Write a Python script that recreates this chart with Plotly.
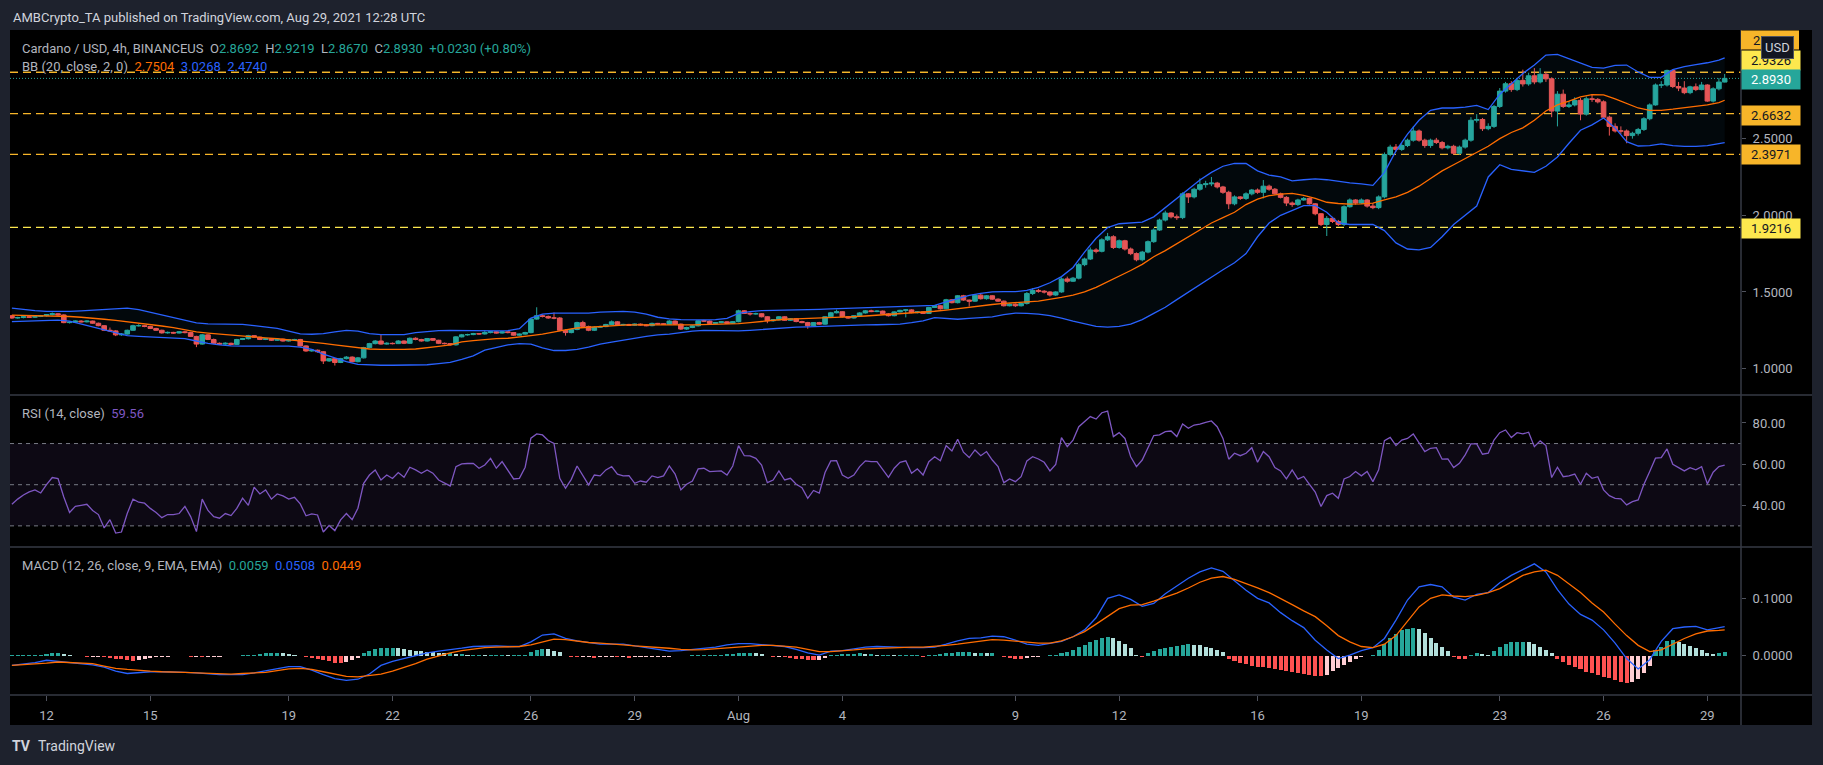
import plotly.graph_objects as go
import pandas as pd

# ---------------- data ----------------
candle_open = [
 1.345,1.330,1.333,1.338,1.335,1.340,1.345,1.352,1.358,1.350,
 1.300,1.303,1.310,1.305,1.310,1.296,1.280,1.250,1.246,1.220,
 1.225,1.250,1.280,1.280,1.275,1.262,1.250,1.233,1.236,1.232,
 1.240,1.235,1.210,1.160,1.220,1.190,1.165,1.160,1.165,1.158,
 1.190,1.195,1.215,1.205,1.190,1.195,1.185,1.192,1.180,1.188,
 1.190,1.148,1.115,1.120,1.110,1.050,1.065,1.040,1.065,1.075,
 1.045,1.070,1.137,1.163,1.180,1.160,1.165,1.163,1.180,1.165,
 1.198,1.190,1.180,1.196,1.185,1.165,1.163,1.155,1.207,1.220,
 1.222,1.228,1.226,1.235,1.240,1.232,1.240,1.235,1.218,1.225,
 1.235,1.323,1.345,1.340,1.330,1.330,1.250,1.235,1.255,1.300,
 1.275,1.250,1.270,1.274,1.288,1.305,1.285,1.288,1.283,1.290,
 1.285,1.280,1.295,1.292,1.290,1.310,1.290,1.258,1.268,1.279,
 1.312,1.310,1.295,1.300,1.305,1.296,1.306,1.377,1.360,1.357,
 1.358,1.338,1.312,1.318,1.338,1.315,1.325,1.307,1.300,1.280,
 1.300,1.290,1.338,1.364,1.371,1.338,1.330,1.345,1.363,1.377,
 1.372,1.375,1.357,1.345,1.370,1.380,1.383,1.365,1.370,1.360,
 1.399,1.410,1.390,1.449,1.430,1.475,1.447,1.440,1.479,1.456,
 1.475,1.453,1.440,1.410,1.420,1.410,1.425,1.490,1.510,1.505,
 1.500,1.480,1.500,1.585,1.570,1.590,1.678,1.715,1.774,1.765,
 1.840,1.860,1.790,1.834,1.780,1.750,1.710,1.760,1.828,1.904,
 1.969,2.015,1.990,1.985,2.140,2.120,2.170,2.200,2.205,2.210,
 2.185,2.150,2.075,2.120,2.110,2.140,2.165,2.150,2.190,2.170,
 2.140,2.117,2.080,2.070,2.100,2.110,2.075,2.010,1.940,1.980,
 1.960,1.940,2.056,2.100,2.080,2.100,2.060,2.050,2.120,2.397,
 2.445,2.430,2.455,2.490,2.550,2.490,2.455,2.490,2.475,2.440,
 2.450,2.405,2.445,2.490,2.620,2.625,2.565,2.580,2.710,2.810,
 2.858,2.820,2.880,2.857,2.910,2.870,2.920,2.890,2.680,2.790,
 2.710,2.720,2.750,2.660,2.760,2.756,2.740,2.640,2.580,2.550,
 2.550,2.520,2.535,2.560,2.630,2.720,2.850,2.850,2.945,2.840,
 2.830,2.800,2.838,2.820,2.850,2.745,2.825,2.8692]

candle_high = [
 1.350,1.338,1.342,1.343,1.344,1.350,1.356,1.366,1.362,1.355,
 1.308,1.314,1.316,1.314,1.313,1.300,1.284,1.268,1.252,1.232,
 1.254,1.286,1.290,1.284,1.279,1.266,1.254,1.242,1.240,1.245,
 1.246,1.240,1.214,1.226,1.224,1.196,1.170,1.172,1.170,1.194,
 1.200,1.220,1.218,1.208,1.199,1.198,1.197,1.195,1.193,1.194,
 1.194,1.152,1.126,1.124,1.114,1.070,1.068,1.070,1.082,1.080,
 1.076,1.142,1.168,1.186,1.222,1.172,1.170,1.186,1.184,1.203,
 1.204,1.194,1.200,1.199,1.188,1.170,1.166,1.211,1.226,1.227,
 1.233,1.231,1.250,1.245,1.244,1.245,1.244,1.238,1.229,1.240,
 1.330,1.400,1.352,1.346,1.366,1.336,1.256,1.262,1.306,1.312,
 1.280,1.276,1.280,1.292,1.314,1.310,1.292,1.292,1.294,1.294,
 1.289,1.300,1.298,1.296,1.316,1.314,1.294,1.273,1.283,1.316,
 1.318,1.314,1.304,1.309,1.309,1.310,1.384,1.382,1.366,1.365,
 1.362,1.342,1.322,1.343,1.342,1.329,1.330,1.312,1.305,1.304,
 1.305,1.342,1.370,1.385,1.374,1.342,1.349,1.368,1.382,1.384,
 1.380,1.379,1.362,1.374,1.384,1.387,1.387,1.374,1.373,1.403,
 1.415,1.414,1.455,1.453,1.480,1.481,1.450,1.484,1.487,1.480,
 1.479,1.458,1.444,1.426,1.425,1.430,1.500,1.525,1.520,1.512,
 1.505,1.505,1.595,1.600,1.598,1.690,1.724,1.790,1.785,1.850,
 1.885,1.870,1.842,1.840,1.790,1.758,1.768,1.836,1.915,1.978,
 2.030,2.020,2.005,2.150,2.145,2.180,2.240,2.225,2.250,2.218,
 2.192,2.160,2.130,2.125,2.150,2.172,2.175,2.230,2.200,2.178,
 2.148,2.125,2.090,2.108,2.120,2.115,2.080,2.015,1.995,1.990,
 1.970,2.065,2.110,2.105,2.110,2.105,2.080,2.130,2.410,2.460,
 2.465,2.470,2.500,2.580,2.560,2.500,2.500,2.505,2.485,2.460,
 2.460,2.455,2.500,2.640,2.660,2.635,2.600,2.720,2.830,2.870,
 2.875,2.895,2.950,2.930,2.960,2.960,2.935,2.900,2.810,2.820,
 2.745,2.770,2.765,2.775,2.790,2.765,2.750,2.650,2.600,2.580,
 2.560,2.545,2.570,2.640,2.730,2.860,2.875,2.950,2.950,2.870,
 2.875,2.845,2.860,2.870,2.855,2.835,2.895,2.9219]

candle_low = [
 1.325,1.326,1.328,1.331,1.330,1.336,1.340,1.347,1.344,1.296,
 1.294,1.299,1.301,1.301,1.292,1.276,1.245,1.240,1.212,1.214,
 1.221,1.246,1.274,1.270,1.258,1.246,1.228,1.228,1.227,1.229,
 1.230,1.206,1.140,1.156,1.186,1.160,1.154,1.155,1.152,1.154,
 1.186,1.190,1.200,1.186,1.186,1.180,1.181,1.176,1.176,1.184,
 1.144,1.110,1.110,1.104,1.030,1.044,1.020,1.036,1.060,1.040,
 1.041,1.066,1.132,1.158,1.156,1.156,1.158,1.160,1.160,1.162,
 1.185,1.176,1.176,1.180,1.160,1.158,1.150,1.150,1.203,1.215,
 1.218,1.221,1.222,1.230,1.228,1.228,1.230,1.214,1.214,1.221,
 1.230,1.318,1.334,1.325,1.322,1.244,1.215,1.230,1.250,1.268,
 1.244,1.245,1.266,1.270,1.284,1.280,1.281,1.278,1.279,1.281,
 1.276,1.276,1.287,1.285,1.286,1.285,1.252,1.252,1.264,1.275,
 1.305,1.291,1.291,1.296,1.292,1.292,1.302,1.356,1.346,1.352,
 1.334,1.296,1.306,1.314,1.311,1.311,1.302,1.296,1.260,1.276,
 1.285,1.286,1.334,1.360,1.334,1.326,1.326,1.341,1.359,1.368,
 1.368,1.352,1.340,1.341,1.366,1.334,1.361,1.360,1.356,1.356,
 1.395,1.385,1.386,1.425,1.425,1.442,1.405,1.436,1.450,1.450,
 1.448,1.435,1.405,1.406,1.402,1.405,1.418,1.480,1.495,1.490,
 1.470,1.474,1.495,1.560,1.565,1.582,1.668,1.708,1.752,1.758,
 1.832,1.780,1.782,1.770,1.740,1.700,1.700,1.752,1.820,1.898,
 1.960,1.980,1.970,1.975,2.080,2.110,2.160,2.180,2.190,2.175,
 2.140,2.040,2.065,2.100,2.100,2.130,2.140,2.110,2.160,2.135,
 2.110,2.060,2.055,2.060,2.095,2.070,2.000,1.930,1.865,1.950,
 1.930,1.930,2.050,2.070,2.075,2.050,2.040,2.040,2.110,2.385,
 2.415,2.420,2.445,2.480,2.480,2.440,2.440,2.465,2.430,2.430,
 2.395,2.395,2.435,2.480,2.605,2.550,2.555,2.570,2.700,2.800,
 2.805,2.810,2.840,2.845,2.855,2.860,2.870,2.640,2.580,2.700,
 2.700,2.710,2.620,2.650,2.740,2.730,2.630,2.520,2.540,2.530,
 2.470,2.500,2.520,2.550,2.620,2.715,2.830,2.840,2.830,2.810,
 2.790,2.790,2.810,2.815,2.740,2.735,2.815,2.867]

candle_close = [
 1.330,1.333,1.338,1.335,1.340,1.345,1.352,1.358,1.350,1.300,
 1.303,1.310,1.305,1.310,1.296,1.280,1.250,1.246,1.220,1.225,
 1.250,1.280,1.280,1.275,1.262,1.250,1.233,1.236,1.232,1.240,
 1.235,1.210,1.160,1.220,1.190,1.165,1.160,1.165,1.158,1.190,
 1.195,1.215,1.205,1.190,1.195,1.185,1.192,1.180,1.188,1.190,
 1.148,1.115,1.120,1.110,1.050,1.065,1.040,1.065,1.075,1.045,
 1.070,1.137,1.163,1.180,1.160,1.165,1.163,1.180,1.165,1.198,
 1.190,1.180,1.196,1.185,1.165,1.163,1.155,1.207,1.220,1.222,
 1.228,1.226,1.235,1.240,1.232,1.240,1.235,1.218,1.225,1.235,
 1.323,1.345,1.340,1.330,1.330,1.250,1.235,1.255,1.300,1.275,
 1.250,1.270,1.274,1.288,1.305,1.285,1.288,1.283,1.290,1.285,
 1.280,1.295,1.292,1.290,1.310,1.290,1.258,1.268,1.279,1.312,
 1.310,1.295,1.300,1.305,1.296,1.306,1.377,1.360,1.357,1.358,
 1.338,1.312,1.318,1.338,1.315,1.325,1.307,1.300,1.280,1.300,
 1.290,1.338,1.364,1.371,1.338,1.330,1.345,1.363,1.377,1.372,
 1.375,1.357,1.345,1.370,1.380,1.383,1.365,1.370,1.360,1.399,
 1.410,1.390,1.449,1.430,1.475,1.447,1.440,1.479,1.456,1.475,
 1.453,1.440,1.410,1.420,1.410,1.425,1.490,1.510,1.505,1.500,
 1.480,1.500,1.585,1.570,1.590,1.678,1.715,1.774,1.765,1.840,
 1.860,1.790,1.834,1.780,1.750,1.710,1.760,1.828,1.904,1.969,
 2.015,1.990,1.985,2.140,2.120,2.170,2.200,2.205,2.210,2.185,
 2.150,2.075,2.120,2.110,2.140,2.165,2.150,2.190,2.170,2.140,
 2.117,2.080,2.070,2.100,2.110,2.075,2.010,1.940,1.980,1.960,
 1.940,2.056,2.100,2.080,2.100,2.060,2.050,2.120,2.397,2.445,
 2.430,2.455,2.490,2.550,2.490,2.455,2.490,2.475,2.440,2.450,
 2.405,2.445,2.490,2.620,2.625,2.565,2.580,2.710,2.810,2.858,
 2.820,2.880,2.857,2.910,2.870,2.920,2.890,2.680,2.790,2.710,
 2.720,2.750,2.660,2.760,2.756,2.740,2.640,2.580,2.550,2.550,
 2.520,2.535,2.560,2.630,2.720,2.850,2.850,2.945,2.840,2.830,
 2.800,2.838,2.820,2.850,2.745,2.825,2.8692,2.8930]

# Bollinger Bands (20, 2) sampled every second candle, plus the last candle
bb_upper = [
 1.394,1.385,1.378,1.373,1.372,1.373,1.376,1.380,1.386,1.392,
 1.394,1.385,1.368,1.350,1.335,1.315,1.298,1.292,1.290,1.290,
 1.288,1.280,1.272,1.262,1.245,1.226,1.224,1.228,1.240,1.250,
 1.245,1.228,1.222,1.220,1.222,1.235,1.242,1.248,1.250,1.248,
 1.246,1.246,1.246,1.248,1.260,1.330,1.355,1.362,1.362,1.360,
 1.362,1.368,1.372,1.373,1.368,1.355,1.335,1.325,1.320,1.318,
 1.318,1.320,1.328,1.360,1.372,1.378,1.379,1.380,1.381,1.383,
 1.386,1.389,1.392,1.395,1.397,1.399,1.402,1.408,1.410,1.410,
 1.413,1.435,1.455,1.478,1.490,1.500,1.502,1.502,1.510,1.530,
 1.560,1.600,1.660,1.760,1.850,1.920,1.945,1.950,1.955,1.990,
 2.050,2.110,2.170,2.230,2.280,2.320,2.338,2.338,2.290,2.262,
 2.250,2.225,2.232,2.238,2.232,2.220,2.212,2.205,2.195,2.280,
 2.420,2.530,2.620,2.685,2.700,2.700,2.705,2.717,2.690,2.790,
 2.860,2.925,2.980,3.045,3.050,3.020,2.990,2.965,2.960,2.978,
 2.980,2.935,2.900,2.900,2.950,2.970,2.983,2.995,3.012,
 3.0268]
bb_basis = [
 1.349,1.348,1.346,1.345,1.343,1.340,1.335,1.330,1.322,1.314,
 1.306,1.298,1.288,1.278,1.268,1.255,1.240,1.232,1.225,1.218,
 1.210,1.205,1.200,1.195,1.188,1.182,1.175,1.165,1.155,1.145,
 1.135,1.128,1.126,1.125,1.126,1.128,1.135,1.145,1.155,1.175,
 1.183,1.190,1.195,1.198,1.205,1.215,1.225,1.240,1.252,1.265,
 1.270,1.275,1.280,1.284,1.285,1.286,1.286,1.285,1.285,1.285,
 1.287,1.289,1.291,1.294,1.300,1.308,1.316,1.322,1.325,1.327,
 1.329,1.332,1.336,1.339,1.343,1.348,1.352,1.356,1.362,1.366,
 1.374,1.382,1.392,1.400,1.410,1.418,1.425,1.432,1.435,1.440,
 1.450,1.465,1.480,1.500,1.530,1.565,1.600,1.640,1.680,1.730,
 1.770,1.815,1.860,1.910,1.950,1.985,2.020,2.070,2.105,2.128,
 2.138,2.143,2.130,2.110,2.085,2.077,2.073,2.074,2.080,2.100,
 2.120,2.150,2.190,2.240,2.290,2.330,2.370,2.415,2.450,2.500,
 2.540,2.570,2.620,2.680,2.720,2.745,2.772,2.787,2.786,2.760,
 2.730,2.700,2.685,2.685,2.692,2.700,2.710,2.720,2.735,
 2.7504]
bb_lower = [
 1.307,1.310,1.314,1.316,1.316,1.310,1.290,1.275,1.255,1.235,
 1.215,1.210,1.206,1.203,1.200,1.196,1.180,1.165,1.155,1.148,
 1.146,1.146,1.146,1.146,1.146,1.140,1.125,1.095,1.072,1.045,
 1.028,1.023,1.022,1.022,1.022,1.023,1.025,1.032,1.040,1.060,
 1.083,1.120,1.140,1.155,1.163,1.160,1.135,1.118,1.118,1.125,
 1.140,1.160,1.172,1.185,1.200,1.210,1.220,1.225,1.235,1.245,
 1.250,1.248,1.247,1.246,1.250,1.255,1.262,1.268,1.270,1.272,
 1.275,1.278,1.282,1.284,1.285,1.286,1.287,1.290,1.300,1.312,
 1.332,1.325,1.322,1.328,1.334,1.338,1.352,1.362,1.360,1.355,
 1.345,1.330,1.310,1.290,1.275,1.270,1.275,1.290,1.320,1.360,
 1.400,1.450,1.500,1.550,1.600,1.645,1.690,1.750,1.860,1.950,
 2.000,2.030,2.063,2.063,2.020,1.950,1.940,1.940,1.940,1.900,
 1.820,1.780,1.775,1.790,1.860,1.940,2.000,2.060,2.250,2.330,
 2.300,2.290,2.280,2.320,2.380,2.470,2.555,2.590,2.635,2.570,
 2.480,2.452,2.455,2.466,2.455,2.450,2.450,2.455,2.465,
 2.474]

rsi_values = [
 40.5,43.0,45.0,46.5,47.5,46.0,50.0,53.5,53.0,44.0,
 36.5,39.5,40.0,40.5,37.5,35.5,29.0,33.0,26.5,27.0,
 36.0,43.0,41.5,41.0,38.5,36.5,34.0,35.5,35.5,36.0,
 39.5,34.5,27.2,43.0,37.5,34.5,33.7,36.0,35.0,38.5,
 43.5,40.0,48.8,45.5,47.5,43.0,45.5,44.6,43.0,43.9,
 40.7,34.9,35.8,35.3,27.0,30.2,27.7,32.9,36.0,33.0,
 38.6,50.7,54.7,57.2,52.3,54.7,53.0,55.9,53.6,58.5,
 57.2,55.6,57.2,55.6,52.3,51.0,49.4,58.8,60.1,60.3,
 60.4,58.0,59.6,62.8,58.0,61.2,57.2,52.8,53.1,58.5,
 72.6,74.7,74.2,71.5,70.1,53.1,48.3,52.6,59.1,54.7,
 49.9,54.7,54.3,57.2,58.8,55.1,54.3,54.4,50.7,51.8,
 51.2,54.3,53.5,54.3,59.1,55.2,47.5,50.2,51.8,57.7,
 58.0,56.4,56.7,56.7,54.7,59.1,69.0,64.1,64.0,62.8,
 59.6,51.0,52.3,56.7,52.3,53.1,50.2,48.6,43.4,47.2,
 45.9,55.9,61.6,61.7,54.7,53.1,54.7,58.8,61.6,61.2,
 61.2,57.2,53.6,58.0,60.9,61.6,55.6,57.7,54.7,61.2,
 63.6,61.6,69.0,66.4,72.1,65.8,63.2,66.9,64.1,66.1,
 62.0,58.8,51.0,52.8,51.5,53.9,61.6,63.6,62.5,60.9,
 56.7,59.9,72.9,68.5,71.7,78.2,80.6,83.1,81.9,85.0,
 85.8,73.4,75.3,72.5,63.6,58.8,62.0,67.7,73.9,74.2,
 75.8,76.1,73.4,79.5,77.4,79.0,79.4,80.3,81.0,78.2,
 72.5,62.4,65.3,64.1,65.3,68.0,60.9,66.1,63.6,58.3,
 56.7,52.8,57.2,52.7,54.0,50.2,46.4,39.4,44.7,45.9,
 43.4,52.8,54.0,56.4,54.3,56.4,51.5,57.2,71.4,73.0,
 69.0,71.7,72.5,74.7,70.1,66.1,67.7,68.0,62.4,62.5,
 58.3,60.4,64.5,69.8,69.8,64.8,65.3,71.7,75.3,76.6,
 72.9,75.3,74.7,75.5,68.5,71.3,69.0,53.5,58.5,53.9,
 54.3,55.2,50.2,55.6,53.1,53.9,47.5,44.7,43.4,43.1,
 40.2,41.8,42.6,50.2,56.4,62.9,63.2,67.4,59.9,58.3,
 56.7,58.3,57.2,58.8,50.4,56.1,58.8,59.56]

# MACD (12, 26, 9): line and signal sampled every second candle, plus the last candle
macd_values = [
 -0.017,-0.015,-0.012,-0.008,-0.010,-0.012,-0.014,-0.016,-0.020,-0.027,
 -0.031,-0.029,-0.028,-0.028,-0.028,-0.029,-0.030,-0.032,-0.033,-0.033,
 -0.033,-0.030,-0.026,-0.022,-0.019,-0.019,-0.025,-0.033,-0.040,-0.043,
 -0.041,-0.032,-0.017,-0.010,-0.005,0.000,0.005,0.008,0.010,0.013,
 0.016,0.017,0.017,0.016,0.016,0.024,0.036,0.038,0.030,0.026,
 0.023,0.020,0.020,0.020,0.017,0.014,0.011,0.008,0.009,0.011,
 0.013,0.015,0.019,0.021,0.021,0.019,0.017,0.016,0.011,0.005,
 0.001,0.008,0.009,0.012,0.015,0.016,0.015,0.015,0.014,0.014,
 0.015,0.020,0.026,0.030,0.031,0.034,0.033,0.027,0.020,0.018,
 0.021,0.025,0.033,0.045,0.066,0.100,0.106,0.098,0.086,0.091,
 0.108,0.122,0.135,0.146,0.153,0.147,0.130,0.114,0.100,0.092,
 0.075,0.061,0.049,0.027,0.010,-0.005,0.001,0.009,0.014,0.030,
 0.062,0.097,0.120,0.124,0.120,0.102,0.097,0.107,0.110,0.127,
 0.140,0.150,0.160,0.146,0.115,0.090,0.072,0.062,0.045,0.022,
 -0.005,-0.023,-0.007,0.025,0.047,0.050,0.051,0.045,0.049,
 0.0508]
signal_values = [
 -0.017,-0.016,-0.014,-0.013,-0.011,-0.012,-0.013,-0.014,-0.018,-0.022,
 -0.024,-0.026,-0.027,-0.028,-0.028,-0.029,-0.030,-0.031,-0.032,-0.032,
 -0.031,-0.030,-0.029,-0.026,-0.023,-0.022,-0.024,-0.028,-0.032,-0.036,
 -0.037,-0.035,-0.032,-0.027,-0.021,-0.014,-0.006,0.000,0.005,0.009,
 0.012,0.014,0.015,0.016,0.016,0.019,0.024,0.029,0.028,0.025,
 0.023,0.022,0.021,0.019,0.017,0.016,0.015,0.013,0.011,0.010,
 0.0105,0.012,0.014,0.016,0.017,0.018,0.018,0.017,0.015,0.011,
 0.007,0.007,0.008,0.010,0.012,0.013,0.014,0.014,0.015,0.015,
 0.016,0.018,0.020,0.023,0.026,0.028,0.027,0.025,0.024,0.022,
 0.022,0.026,0.033,0.042,0.055,0.068,0.082,0.088,0.089,0.095,
 0.102,0.109,0.118,0.128,0.135,0.138,0.133,0.126,0.118,0.110,
 0.100,0.089,0.078,0.068,0.052,0.035,0.024,0.016,0.014,0.020,
 0.035,0.060,0.085,0.100,0.106,0.104,0.103,0.105,0.110,0.117,
 0.128,0.140,0.146,0.149,0.140,0.125,0.110,0.092,0.076,0.055,
 0.035,0.018,0.007,0.010,0.020,0.030,0.038,0.043,0.044,
 0.0449]
hist_values = [
 0.001,0.001,0.002,0.002,0.002,0.002,0.003,0.004,0.005,0.003,
 0.001,-0.001,-0.001,-0.002,-0.002,-0.002,-0.003,-0.004,-0.005,-0.006,
 -0.008,-0.009,-0.007,-0.005,-0.004,-0.003,-0.002,-0.002,-0.001,-0.001,
 -0.001,-0.002,-0.002,-0.003,-0.002,-0.002,-0.002,-0.001,-0.001,-0.001,
 0.001,0.001,0.002,0.003,0.004,0.005,0.005,0.004,0.003,0.002,
 -0.001,-0.003,-0.004,-0.006,-0.008,-0.010,-0.012,-0.013,-0.011,-0.008,
 -0.004,0.004,0.009,0.012,0.013,0.014,0.014,0.013,0.012,0.010,
 0.009,0.008,0.007,0.006,0.005,0.004,0.004,0.003,0.003,0.002,
 0.002,0.002,0.001,0.001,0.001,0.001,0.0005,0.0005,0.001,0.002,
 0.006,0.010,0.012,0.011,0.009,0.006,-0.001,-0.002,-0.003,-0.003,
 -0.003,-0.004,-0.003,-0.003,-0.002,-0.003,-0.003,-0.004,-0.003,-0.003,
 -0.002,-0.002,-0.002,-0.002,-0.002,-0.001,-0.001,-0.001,0.001,0.001,
 0.002,0.002,0.002,0.002,0.003,0.003,0.005,0.005,0.005,0.004,
 0.003,-0.001,-0.002,-0.002,-0.003,-0.004,-0.005,-0.006,-0.007,-0.008,
 -0.007,-0.004,0.001,0.002,0.003,0.003,0.003,0.004,0.003,0.003,
 0.002,0.002,0.002,0.001,0.001,0.001,0.001,0.001,-0.002,0.001,
 0.002,0.003,0.004,0.005,0.006,0.006,0.006,0.005,0.005,0.004,
 0.004,-0.001,-0.003,-0.004,-0.005,-0.006,-0.004,-0.003,-0.002,-0.001,
 0.001,0.001,0.005,0.007,0.010,0.015,0.019,0.023,0.027,0.030,
 0.032,0.031,0.026,0.020,0.013,0.002,-0.003,0.004,0.008,0.012,
 0.014,0.015,0.017,0.019,0.020,0.019,0.018,0.016,0.013,0.010,
 0.006,-0.005,-0.009,-0.013,-0.015,-0.018,-0.019,-0.020,-0.022,-0.024,
 -0.025,-0.027,-0.028,-0.030,-0.032,-0.034,-0.035,-0.036,-0.033,-0.027,
 -0.021,-0.016,-0.011,-0.006,-0.003,-0.001,0.001,0.010,0.020,0.030,
 0.038,0.044,0.047,0.048,0.047,0.040,0.030,0.022,0.015,0.008,
 -0.002,-0.005,-0.006,0.002,0.004,0.003,0.002,0.008,0.015,0.021,
 0.023,0.024,0.024,0.023,0.020,0.015,0.010,0.005,-0.005,-0.011,
 -0.016,-0.020,-0.024,-0.028,-0.031,-0.034,-0.037,-0.039,-0.043,-0.046,
 -0.047,-0.045,-0.040,-0.030,-0.018,0.010,0.016,0.026,0.027,0.024,
 0.021,0.017,0.014,0.010,0.005,0.003,0.004,0.0059]

level_prices = [2.9326, 2.9326, 2.6632, 2.3971, 1.9216]
last_price = 2.8930

x_tick_dates = ["2021-07-12", "2021-07-15", "2021-07-19", "2021-07-22", "2021-07-26",
                "2021-07-29", "2021-08-01", "2021-08-04", "2021-08-09", "2021-08-12",
                "2021-08-16", "2021-08-19", "2021-08-23", "2021-08-26", "2021-08-29"]
x_tick_labels = ["12", "15", "19", "22", "26", "29", "Aug", "4", "9", "12",
                 "16", "19", "23", "26", "29"]
price_ticks = [1.0, 1.5, 2.0, 2.5]
rsi_ticks = [40, 60, 80]
macd_ticks = [0.0, 0.1]

# ---------------- checks ----------------
n = len(candle_close)
lens = dict(o=len(candle_open), h=len(candle_high), l=len(candle_low), c=n, rsi=len(rsi_values),
            hist=len(hist_values), bbu=len(bb_upper), bbm=len(bb_basis), bbl=len(bb_lower),
            macd=len(macd_values), sig=len(signal_values))
line_idx = list(range(0, n - 1, 2)) + [n - 1]
assert all(lens[k] == n for k in ["o", "h", "l", "rsi", "hist"]), lens
assert all(lens[k] == len(line_idx) for k in ["bbu", "bbm", "bbl", "macd", "sig"]), (lens, len(line_idx))

candle_times = pd.date_range("2021-07-11 00:00", periods=n, freq="4h")
line_times = candle_times[line_idx]

# ---------------- geometry / style ----------------
W, H = 1823, 765
ML, MR, MT, MB = 10, 82, 30, 70
PW, PH = W - ML - MR, H - MT - MB
FONT = "Roboto, 'Open Sans', sans-serif"
X0, X1 = "2021-07-10 22:41", "2021-08-29 23:19"


def px_x(px):
    return (px - ML) / PW


def px_y(py):
    return (H - MB - py) / PH


BLUE, ORANGE, TEAL, RED, PURPLE = "#2962ff", "#ff6d00", "#26a69a", "#ef5350", "#7e57c2"
AMBER, YELLOW = "#f7b529", "#fde84e"
TXT = "#b2b5be"

fig = go.Figure()

# Bollinger bands
fig.add_trace(go.Scatter(x=line_times, y=bb_upper, mode="lines", line=dict(color=BLUE, width=1.3),
                         hoverinfo="skip", yaxis="y"))
fig.add_trace(go.Scatter(x=line_times, y=bb_lower, mode="lines", line=dict(color=BLUE, width=1.3),
                         fill="tonexty", fillcolor="rgba(33,150,243,0.05)", hoverinfo="skip", yaxis="y"))
fig.add_trace(go.Scatter(x=line_times, y=bb_basis, mode="lines", line=dict(color=ORANGE, width=1.3),
                         hoverinfo="skip", yaxis="y"))

# candles
fig.add_trace(go.Candlestick(
    x=candle_times, open=candle_open, high=candle_high, low=candle_low, close=candle_close,
    increasing=dict(line=dict(color=TEAL, width=1), fillcolor=TEAL),
    decreasing=dict(line=dict(color=RED, width=1), fillcolor=RED),
    whiskerwidth=0, hoverinfo="skip", yaxis="y"))

# RSI
fig.add_trace(go.Scatter(x=candle_times, y=rsi_values, mode="lines", line=dict(color=PURPLE, width=1.3),
                         hoverinfo="skip", yaxis="y2"))

# MACD histogram colours (TradingView rule: growing / falling columns)
hist_colors = []
prev = 0.0
for hv in hist_values:
    if hv >= 0:
        hist_colors.append("#26a69a" if hv >= prev else "#b2dfdb")
    else:
        hist_colors.append("#ff5252" if hv < prev else "#ffcdd2")
    prev = hv

fig.add_trace(go.Bar(x=candle_times, y=hist_values, marker=dict(color=hist_colors, line=dict(width=0)),
                     width=4 * 3600 * 1000 * 0.7, hoverinfo="skip", yaxis="y3"))
fig.add_trace(go.Scatter(x=line_times, y=macd_values, mode="lines", line=dict(color=BLUE, width=1.3),
                         hoverinfo="skip", yaxis="y3"))
fig.add_trace(go.Scatter(x=line_times, y=signal_values, mode="lines", line=dict(color=ORANGE, width=1.3),
                         hoverinfo="skip", yaxis="y3"))

# ---------------- shapes ----------------
shapes = []
shapes.append(dict(type="rect", xref="paper", yref="paper", x0=px_x(10), x1=px_x(1812),
                   y0=px_y(725), y1=px_y(30), fillcolor="#000000", line=dict(width=0), layer="below"))
shapes.append(dict(type="rect", xref="x", yref="y2", x0=X0, x1=X1, y0=30, y1=70,
                   fillcolor="rgba(126,87,194,0.1)", line=dict(width=0), layer="below"))
for lv in [70, 50, 30]:
    shapes.append(dict(type="line", xref="x", yref="y2", x0=X0, x1=X1, y0=lv, y1=lv,
                       line=dict(color="#787b86", width=1, dash="4px,4px"), layer="below"))
level_line_colors = [YELLOW, AMBER, AMBER, AMBER, YELLOW]
for p, col in zip(level_prices, level_line_colors):
    shapes.append(dict(type="line", xref="x", yref="y", x0=X0, x1=X1, y0=p, y1=p,
                       line=dict(color=col, width=1.3, dash="8px,5px"), layer="below"))
shapes.append(dict(type="line", xref="x", yref="y", x0=X0, x1=X1, y0=last_price, y1=last_price,
                   line=dict(color=TEAL, width=1, dash="1px,2px"), layer="below"))
for py in [395, 547, 695]:
    shapes.append(dict(type="line", xref="paper", yref="paper", x0=px_x(10), x1=px_x(1812),
                       y0=px_y(py), y1=px_y(py), line=dict(color="#363a45", width=1.5), layer="above"))
shapes.append(dict(type="line", xref="paper", yref="paper", x0=px_x(1741), x1=px_x(1741),
                   y0=px_y(725), y1=px_y(30), line=dict(color="#363a45", width=1.5), layer="above"))
# top price-label box that sits underneath the USD badge
shapes.append(dict(type="rect", xref="paper", yref="paper", x0=px_x(1741), x1=px_x(1799),
                   y0=px_y(49.5), y1=px_y(30.5), fillcolor=AMBER, line=dict(width=0), layer="above"))

# ---------------- annotations ----------------
ann = []


def txt(x, y, text, size=13, color=TXT):
    ann.append(dict(xref="paper", yref="paper", x=px_x(x), y=px_y(y), xanchor="left", yanchor="middle",
                    text=text, showarrow=False, font=dict(family=FONT, size=size, color=color)))


def sp(t, c):
    return f"<span style='color:{c}'>{t}</span>"


txt(11, 17, "AMBCrypto_TA published on TradingView.com, Aug 29, 2021 12:28 UTC", 13, "#d1d4dc")
txt(20, 48, "Cardano / USD, 4h, BINANCEUS&nbsp;&nbsp;O" + sp("2.8692", TEAL) + "&nbsp;&nbsp;H" + sp("2.9219", TEAL)
    + "&nbsp;&nbsp;L" + sp("2.8670", TEAL) + "&nbsp;&nbsp;C" + sp("2.8930", TEAL) + "&nbsp;&nbsp;"
    + sp("+0.0230 (+0.80%)", TEAL))
txt(20, 66, "BB (20, close, 2, 0)&nbsp;&nbsp;" + sp("2.7504", ORANGE) + "&nbsp;&nbsp;" + sp("3.0268", BLUE)
    + "&nbsp;&nbsp;" + sp("2.4740", BLUE))
txt(20, 413, "RSI (14, close)&nbsp;&nbsp;" + sp("59.56", PURPLE))
txt(20, 565, "MACD (12, 26, close, 9, EMA, EMA)&nbsp;&nbsp;" + sp("0.0059", TEAL) + "&nbsp;&nbsp;"
    + sp("0.0508", BLUE) + "&nbsp;&nbsp;" + sp("0.0449", ORANGE))


def price_label(py, text, bg, fg):
    ann.append(dict(xref="paper", yref="paper", x=px_x(1741), y=px_y(py), xanchor="left", yanchor="middle",
                    text=text, showarrow=False, bgcolor=bg, width=54, height=15, borderpad=2, align="center",
                    font=dict(family=FONT, size=13, color=fg)))


label_rows = [(60.5, f"{level_prices[0]:.4f}", YELLOW, "#131722"),
              (79.3, f"{last_price:.4f}", TEAL, "#ffffff"),
              (115.5, f"{level_prices[2]:.4f}", AMBER, "#131722"),
              (154.5, f"{level_prices[3]:.4f}", AMBER, "#131722"),
              (228.0, f"{level_prices[4]:.4f}", YELLOW, "#131722")]
for py, t, bg, fg in label_rows:
    price_label(py, t, bg, fg)

# visible part of the top label (the rest is covered by the USD badge)
ann.append(dict(xref="paper", yref="paper", x=px_x(1751), y=px_y(40), xanchor="left", yanchor="middle",
                text=f"{level_prices[1]:.4f}"[:1], showarrow=False,
                font=dict(family=FONT, size=13, color="#131722")))

# USD badge
ann.append(dict(xref="paper", yref="paper", x=px_x(1777), y=px_y(47), xanchor="center", yanchor="middle",
                text="USD", showarrow=False, bgcolor="#131722", bordercolor="#50535e", borderwidth=1,
                borderpad=3, font=dict(family=FONT, size=13, color="#d1d4dc")))
# TradingView footer
txt(10, 746, "<b>TV</b>", 14, "#d1d4dc")
txt(36, 746, "TradingView", 14, "#d1d4dc")

# ---------------- layout ----------------
axis_common = dict(showgrid=False, zeroline=False, showline=False, fixedrange=True)
fig.update_layout(
    width=W, height=H, margin=dict(l=ML, r=MR, t=MT, b=MB),
    paper_bgcolor="#1e222d", plot_bgcolor="#000000",
    showlegend=False, bargap=0, boxgap=0.2, boxgroupgap=0,
    font=dict(family=FONT, size=13, color=TXT),
    xaxis=dict(**axis_common, type="date", range=[X0, X1], anchor="y3", domain=[0, 1],
               tickmode="array", tickvals=x_tick_dates, ticktext=x_tick_labels,
               ticks="outside", ticklen=5, tickcolor="#50535e", tickfont=dict(family=FONT, size=13, color=TXT),
               ticklabelstandoff=3, rangeslider=dict(visible=False)),
    yaxis=dict(**axis_common, domain=[px_y(395), px_y(30)], range=[0.8278, 3.2087], side="right", anchor="x",
               tickmode="array", tickvals=price_ticks, ticktext=[f"{v:.4f}" for v in price_ticks],
               ticks="outside", ticklen=4, tickcolor="#50535e", ticklabelstandoff=4,
               tickfont=dict(family=FONT, size=13, color=TXT)),
    yaxis2=dict(**axis_common, domain=[px_y(547), px_y(395)], range=[19.73, 93.6], side="right", anchor="x",
                tickmode="array", tickvals=rsi_ticks, ticktext=[f"{v:.2f}" for v in rsi_ticks],
                ticks="outside", ticklen=4, tickcolor="#50535e", ticklabelstandoff=4,
                tickfont=dict(family=FONT, size=13, color=TXT)),
    yaxis3=dict(**axis_common, domain=[px_y(695), px_y(547)], range=[-0.0685, 0.1894], side="right", anchor="x",
                tickmode="array", tickvals=macd_ticks, ticktext=[f"{v:.4f}" for v in macd_ticks],
                ticks="outside", ticklen=4, tickcolor="#50535e", ticklabelstandoff=4,
                tickfont=dict(family=FONT, size=13, color=TXT)),
    shapes=shapes, annotations=ann,
)

fig.write_html("out.html", config={"displayModeBar": False, "staticPlot": True},
               post_script="document.body.style.margin='0';document.body.style.overflow='hidden';")
